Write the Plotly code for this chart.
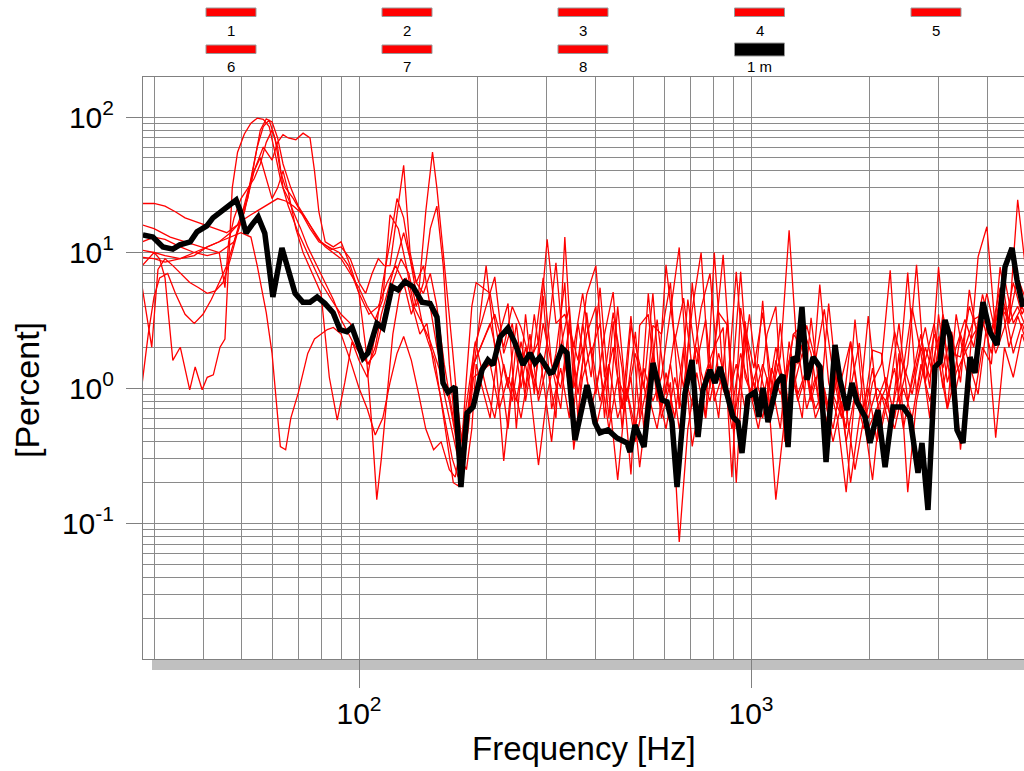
import plotly.graph_objects as go

# ---------------- data ----------------
BLACK_F = [28.1, 29.8, 31.6, 33.5, 34.9, 37.1, 38.6, 40.9, 42.4, 44.2,
           46.3, 48.6, 49.7, 51.5, 53.3, 55.3, 57.5, 60.3, 63.6, 65.9,
           68.7, 71.9, 75.0, 78.2, 81.9, 85.9, 89.4, 93.1, 96.0, 102.4,
           105.4, 111.1, 115.1, 121.4, 125.8, 131.0, 137.3, 144.8, 151.8, 158.1,
           163.8, 168.7, 175.8, 182.0, 188.6, 195.4, 206.0, 213.3, 219.8, 229.0,
           239.9, 250.0, 262.0, 273.0, 281.2, 289.5, 307.0, 312.5, 329.6, 339.4,
           355.6, 366.3, 381.6, 393.0, 400.0, 411.9, 431.6, 455.0, 482.8, 491.4,
           506.0, 533.5, 562.3, 593.0, 610.5, 628.7, 647.6, 678.6, 707.3, 732.6,
           754.3, 786.0, 809.5, 833.7, 868.6, 899.5, 926.4, 948.4, 982.4, 1024,
           1048, 1073, 1105, 1165, 1207, 1243, 1280, 1310, 1349, 1390,
           1440, 1500, 1554, 1609, 1638, 1687, 1758, 1810, 1864, 1954,
           2012, 2109, 2198, 2302, 2442, 2544, 2667, 2730, 2828, 2947,
           3035, 3126, 3219, 3354, 3474, 3621, 3728, 3907, 4072, 4243,
           4446, 4633, 4771, 4941]
BLACK_V = [13.5, 13.0, 11.0, 10.6, 11.4, 12.0, 14.2, 15.7, 18.0, 19.9,
           21.7, 24.4, 20.6, 13.9, 16.0, 18.3, 13.9, 4.7, 10.8, 7.4,
           5.0, 4.3, 4.3, 4.7, 4.2, 3.6, 2.7, 2.6, 2.8, 1.66,
           1.81, 3.0, 2.77, 5.6, 5.3, 6.1, 5.6, 4.3, 4.2, 3.34,
           1.09, 0.93, 1.02, 0.186, 0.654, 0.724, 1.36, 1.61, 1.48, 2.38,
           2.77, 2.15, 1.48, 1.81, 1.53, 1.69, 1.29, 1.31, 1.97, 1.81,
           0.413, 0.611, 1.05, 0.724, 0.552, 0.466, 0.49, 0.428, 0.393, 0.337,
           0.533, 0.367, 1.53, 0.815, 0.79, 0.561, 0.186, 0.918, 1.61, 0.435,
           0.967, 1.36, 1.09, 1.43, 0.858, 0.611, 0.561, 0.331, 0.858, 0.934,
           0.611, 1.0, 0.561, 1.09, 1.25, 0.367, 1.69, 1.56, 3.96, 1.15,
           1.69, 1.43, 0.284, 1.09, 2.08, 1.15, 0.688, 1.09, 0.788, 0.611,
           0.393, 0.688, 0.261, 0.724, 0.724, 0.611, 0.236, 0.393, 0.126, 1.43,
           1.56, 3.18, 2.38, 0.49, 0.393, 1.69, 1.29, 4.3, 2.59, 2.08,
           7.82, 10.8, 6.27, 3.96]

# high-frequency sampling grids for the red runs
GRID_A = [211, 222, 234, 246, 259, 273, 287, 302, 318,
          335, 353, 372, 391, 412, 434, 457, 481, 507,
          533, 562, 591, 623, 656, 690, 727, 766, 806,
          849, 894, 941, 991, 1044, 1099, 1157, 1219, 1283,
          1351, 1423, 1498, 1578, 1661, 1749, 1842, 1940, 2042,
          2151, 2265, 2385, 2511, 2644, 2784, 2932, 3087, 3251,
          3423, 3605, 3796, 3997, 4209, 4432, 4667, 4914, 5100]
GRID_B = [216, 228, 240, 252, 266, 280, 295, 310, 327,
          344, 362, 381, 402, 423, 445, 469, 494, 520,
          547, 576, 607, 639, 673, 708, 746, 786, 827,
          871, 917, 966, 1017, 1071, 1128, 1188, 1251, 1317,
          1387, 1460, 1538, 1619, 1705, 1795, 1890, 1991, 2096,
          2207, 2324, 2448, 2577, 2714, 2858, 3009, 3169, 3337,
          3514, 3700, 3896, 4103, 4320, 4549, 4790, 5100]

R1_F = [28, 30, 32, 34, 36, 38, 40, 43, 46, 49, 52, 54, 56, 58, 60, 62, 64, 67, 70, 74,
        78, 82, 86, 90, 95, 100, 105, 110, 115, 120, 126, 132, 138, 145, 152, 160, 168, 174, 179, 184, 190, 196]
R1_V = [23, 23, 22, 20, 18, 17, 16, 15, 14, 16, 25, 45, 80, 97, 92, 70, 45, 30, 22, 17,
        13, 11, 10, 9, 7, 5.5, 4, 3.2, 4.5, 19, 15, 8, 4, 3, 2.2, 1.4, 0.7, 0.45, 0.3, 0.35, 0.7, 1.5]
R1_HI = [2.5, 3.5, 2.0, 4.0, 2.8, 1.6, 2.2, 12.5, 3.0,
         3.5, 2.0, 5.0, 1.8, 3.0, 0.6, 4.0, 0.8, 2.6,
         0.5, 2.9, 2.5, 6.0, 0.7, 4.5, 1.5, 3.2, 0.8,
         1.3, 0.5, 1.1, 3.5, 1.0, 0.6, 1.6, 0.9, 2.5,
         2.0, 0.8, 1.5, 0.6, 1.2, 0.4, 0.9, 0.6, 1.4,
         0.5, 1.0, 3.0, 0.8, 1.5, 2.8, 1.2, 3.5, 1.8,
         1.7, 4.0, 2.5, 5.0, 2.5, 6.5, 3.0, 4.0, 3.0]

R2_F = [28, 30, 33, 36, 40, 44, 48, 51, 54, 57, 60, 62, 64, 66, 69, 72, 75, 77, 79, 82,
        86, 90, 95, 100, 106, 112, 118, 124, 130, 136, 142, 148, 154, 158, 163, 168, 173, 178, 183, 188, 194, 199]
R2_V = [16, 15, 13, 12, 11, 10, 12, 20, 40, 60, 48, 65, 74, 70, 68, 76, 70, 40, 20, 12,
        11, 12, 8, 5, 3.5, 4, 6, 8, 6, 3.5, 5, 20, 55, 30, 12, 5, 2, 0.8, 0.4, 1.2, 4, 6]
R2_HI = [5.0, 2.0, 1.0, 3.0, 0.8, 2.0, 6.5, 1.5, 1.0,
         2.8, 1.6, 4.9, 8.0, 1.2, 3.6, 1.4, 0.23, 2.9,
         3.5, 0.8, 8.1, 2.2, 4.6, 1.4, 3.9, 7.0, 1.2,
         0.8, 1.5, 0.7, 1.1, 0.6, 1.4, 0.9, 1.6, 0.8,
         1.3, 0.7, 1.0, 0.5, 1.2, 2.2, 0.8, 0.6, 1.0,
         0.8, 1.4, 0.5, 1.2, 2.5, 1.0, 7.8, 1.5, 1.0,
         2.0, 3.2, 3.5, 2.5, 4.0, 3.2, 6.5, 4.0]

R3_F = [28, 30, 32, 35, 38, 41, 44, 47, 50, 53, 55, 58, 60, 63, 65, 67, 70, 74, 77, 83,
        86, 90, 95, 100, 105, 110, 115, 120, 125, 130, 136, 142, 148, 155, 162, 170, 176, 181, 186, 192, 198]
R3_V = [10.4, 10, 9.5, 9, 9.5, 11, 12, 13, 14, 13, 8, 3.6, 1.8, 0.37, 0.35, 0.6, 0.92, 1.8, 2.3, 2.7,
        2.8, 2.5, 1.6, 1.0, 0.7, 0.45, 0.6, 1.1, 1.8, 2.4, 1.6, 0.9, 0.5, 0.35, 0.4, 0.25, 0.22, 0.35, 0.6, 1.2, 2.2]
R3_HI = [1.0, 0.6, 1.5, 0.8, 2.2, 1.0, 0.27, 0.9, 1.8,
         6.0, 0.35, 1.2, 2.0, 0.8, 1.5, 0.6, 1.0, 0.4,
         0.8, 1.8, 0.6, 1.1, 0.073, 0.5, 1.3, 0.6, 2.0,
         2.8, 0.22, 3.9, 1.6, 0.7, 2.5, 4.0, 0.4, 1.2,
         0.6, 3.3, 0.9, 0.5, 1.5, 0.7, 0.25, 0.6, 0.21,
         0.9, 0.5, 1.8, 0.17, 0.8, 1.6, 3.0, 1.0, 2.2,
         0.35, 1.5, 0.9, 3.0, 0.43, 2.0, 1.2, 2.5, 1.8]

R4_F = [28, 29, 30, 31, 32, 33.5, 35, 37, 38.2, 39.8, 41, 42.5, 44.2, 45.5, 46.5, 47.5, 49, 51, 53, 55,
        57, 59, 61, 63, 66, 70, 75, 80, 85, 90, 95, 100, 105, 110, 116, 122, 128, 134, 140, 146,
        152, 158, 164, 170, 176, 182, 188, 194, 199]
R4_V = [8, 9, 10, 9, 6.5, 1.6, 2.0, 0.97, 1.43, 0.97, 1.2, 1.25, 2.0, 2.3, 8, 30, 55, 75, 90, 98,
        96, 85, 55, 35, 22, 14, 9, 6, 4.5, 3.5, 3, 2.2, 1.5, 1.8, 3.5, 6, 9, 7, 4, 6,
        15, 22, 8, 1.5, 0.5, 0.3, 0.25, 0.5, 1.5]
R4_HI = [0.6, 2.5, 4.2, 0.5, 3.5, 0.9, 4.8, 0.7, 1.4,
         0.6, 3.0, 1.2, 0.5, 1.0, 2.0, 0.7, 1.2, 0.26,
         0.9, 0.5, 1.3, 0.6, 2.0, 0.37, 0.9, 1.5, 0.6,
         3.2, 0.2, 2.8, 1.4, 3.6, 1.1, 0.5, 2.2, 0.9,
         1.4, 0.6, 0.9, 0.4, 0.8, 0.2, 0.6, 1.0, 0.4,
         0.8, 0.5, 1.0, 0.6, 1.5, 0.8, 1.6, 0.7, 1.3,
         1.8, 2.5, 3.2, 1.8, 5.0, 2.0, 3.4, 2.0]

R5_F = [28, 29, 29.6, 30.7, 32, 33.5, 35, 37, 39, 41, 43, 45, 47, 49, 51, 53, 55, 57, 59, 61,
        63, 65, 68, 71, 75, 79, 84, 89, 94, 100, 104, 108, 111, 114, 118, 122, 127, 132, 137, 143,
        149, 155, 161, 167, 173, 179, 185, 191, 197]
R5_V = [5.5, 3, 2, 7.5, 9, 8, 7, 6, 5.5, 5, 5.2, 6, 9, 14, 20, 35, 60, 85, 95, 70,
        40, 30, 25, 20, 15, 12, 11, 10, 8, 5, 2, 0.5, 0.15, 0.3, 0.9, 2.5, 5, 6.5, 4, 2.5,
        3, 1.5, 0.9, 0.5, 0.3, 0.22, 0.3, 0.8, 2]
R5_HI = [4.0, 6.6, 1.8, 3.0, 1.0, 2.5, 0.8, 1.5, 0.6,
         13, 1.0, 2.0, 0.7, 1.4, 0.5, 1.2, 0.8, 1.8,
         1.0, 5.0, 0.7, 1.5, 0.5, 1.0, 2.0, 0.6, 10,
         1.2, 0.7, 1.8, 1.0, 0.5, 1.2, 0.15, 0.6, 1.0,
         1.8, 0.9, 5.8, 1.1, 0.6, 0.17, 0.9, 0.5, 1.1,
         1.5, 7.4, 0.8, 1.5, 8.1, 1.1, 2.5, 1.4, 2.6,
         1.1, 5.3, 2.2, 3.5, 1.8, 2.8, 6.0, 3.5, 4.5]

R6_F = [28, 29, 30, 31, 32.5, 34, 36, 38, 40, 42, 44, 46, 48, 50, 52, 54, 56, 58, 60, 62,
        64, 66, 69, 72, 76, 80, 84, 88, 92, 96, 100, 105, 110, 115, 120, 125, 130, 135, 140, 146,
        152, 158, 165, 172, 178, 184, 190, 196]
R6_V = [1.1, 2.5, 4.7, 6.5, 7, 5, 3.5, 3, 3.5, 4.5, 6, 8, 12, 18, 28, 40, 50, 35, 25, 30,
        40, 28, 15, 10, 7, 5, 1.2, 0.58, 1.1, 2.2, 1.6, 1.2, 2.5, 6, 12, 25, 18, 9, 6, 5,
        7, 4, 1.5, 0.7, 0.4, 0.3, 0.6, 1.5]
R6_HI = [3.0, 1.5, 0.5, 2.2, 1.0, 3.5, 1.2, 0.4, 2.0,
         4.0, 0.6, 3.6, 0.9, 2.5, 5.1, 0.7, 3.4, 0.6,
         5.0, 1.0, 0.5, 1.2, 0.6, 6.0, 1.3, 0.8, 1.8,
         1.0, 7.2, 1.2, 0.8, 1.5, 0.9, 1.7, 14.6, 1.5,
         2.9, 1.6, 3.8, 1.3, 0.6, 2.2, 0.7, 3.4, 0.8,
         1.2, 0.6, 1.5, 0.9, 2.0, 1.2, 2.4, 0.7, 3.5,
         1.5, 0.8, 2.0, 1.5, 7.8, 3.0, 24.5, 5.0]

R7_F = [28, 30, 32, 35, 38, 41, 44, 47, 50, 53, 56, 59, 62, 65, 68, 72, 76, 80, 85, 90,
        95, 100, 104, 108, 112, 116, 120, 125, 130, 135, 140, 146, 152, 158, 164, 170, 175, 180, 185, 190, 195]
R7_V = [9.2, 9, 8.5, 9, 10, 11, 12, 14, 17, 19, 21, 23, 25, 24, 22, 19, 15, 12, 10.5, 11,
        9, 6, 5, 7, 9, 8, 8, 20, 44, 10, 6, 8, 4, 2, 1.2, 0.8, 0.5, 0.3, 0.3, 0.6, 1.2]
R7_HI = [8, 2.0, 0.29, 1.2, 0.6, 1.5, 0.9, 2.2, 8.4,
         1.5, 0.7, 3.0, 1.2, 5.5, 0.9, 0.21, 1.0, 0.5,
         1.4, 0.8, 1.2, 3.5, 10.9, 1.0, 0.6, 1.3, 2.0,
         9.6, 1.1, 7.2, 0.9, 1.5, 0.8, 2.0, 1.0, 2.5,
         2.9, 1.8, 0.7, 4.2, 1.0, 0.5, 3.2, 0.7, 1.9,
         1.8, 0.6, 1.2, 7.1, 0.9, 2.0, 1.2, 3.0, 0.9,
         2.5, 1.5, 9.3, 15.5, 2.5, 4.0, 1.8, 3.0, 2.2]

R8_F = [28, 30, 32, 35, 38, 41, 44, 45.5, 46.5, 48, 50, 52, 54, 56, 58, 60, 62, 64, 66, 68,
        71, 74, 78, 82, 86, 90, 94, 98, 102, 106, 110, 114, 118, 122, 126, 130, 135, 140, 145, 150,
        156, 162, 168, 174, 179, 184, 190, 196]
R8_V = [12, 13, 12.5, 11, 10, 9.5, 10, 5.5, 12, 18, 25, 30, 35, 45, 65, 80, 60, 30, 25, 20,
        15, 11, 8, 6, 4.5, 3.2, 2.5, 2, 1.7, 1.5, 2, 3.5, 5, 7, 10, 14, 9, 5, 3, 2.2,
        1.6, 0.8, 0.4, 0.2, 0.19, 0.25, 0.5, 1.2]
R8_HI = [1.5, 0.7, 1.2, 0.8, 2.0, 1.0, 3.0, 1.5, 0.7,
         3.2, 0.9, 2.5, 4.0, 0.6, 3.1, 0.5, 2.9, 1.5,
         0.7, 3.2, 0.9, 2.5, 1.0, 3.8, 10, 1.0, 3.6,
         2.9, 0.5, 3.1, 0.8, 4.4, 0.7, 3.0, 0.6, 2.0,
         0.7, 1.2, 0.5, 0.9, 0.6, 1.0, 2.15, 0.5, 0.7,
         1.0, 2.6, 1.4, 3.9, 1.8, 0.6, 3.5, 1.1, 2.0,
         3.2, 2.0, 4.9, 2.6, 5.5, 3.0, 4.0, 2.5]

RED_RUNS = [
    (R1_F, R1_V, GRID_A, R1_HI), (R2_F, R2_V, GRID_B, R2_HI),
    (R3_F, R3_V, GRID_A, R3_HI), (R4_F, R4_V, GRID_B, R4_HI),
    (R5_F, R5_V, GRID_A, R5_HI), (R6_F, R6_V, GRID_B, R6_HI),
    (R7_F, R7_V, GRID_A, R7_HI), (R8_F, R8_V, GRID_B, R8_HI),
]

LEGEND_ROW1 = ["1", "2", "3", "4", "5"]
LEGEND_ROW2 = ["6", "7", "8", "1 m"]
X_MAJOR = [100, 1000]
X_MAJOR_TEXT = ["10<sup>2</sup>", "10<sup>3</sup>"]
Y_MAJOR = [0.1, 1, 10, 100]
Y_MAJOR_TEXT = ["10<sup>-1</sup>", "10<sup>0</sup>", "10<sup>1</sup>", "10<sup>2</sup>"]
X_MINOR = [30, 40, 50, 60, 70, 80, 90, 200, 300, 400, 500, 600, 700, 800, 900, 2000, 3000, 4000]
Y_MINOR = [0.02, 0.03, 0.04, 0.05, 0.06, 0.07, 0.08, 0.09,
           0.2, 0.3, 0.4, 0.5, 0.6, 0.7, 0.8, 0.9,
           2, 3, 4, 5, 6, 7, 8, 9,
           20, 30, 40, 50, 60, 70, 80, 90]

# ---------------- figure ----------------
W, H = 1024, 771
L, R, T, B = 143, 0, 77, 112
PW, PH = W - L - R, H - T - B
FONT = "Liberation Sans, Arial, sans-serif"
GRID = "#8a8a8a"

def px(xp):
    return (xp - L) / PW

def py(yp):
    return (H - B - yp) / PH

fig = go.Figure()
for f_lo, v_lo, f_hi, v_hi in RED_RUNS:
    fig.add_trace(go.Scatter(x=list(f_lo) + list(f_hi), y=list(v_lo) + list(v_hi),
                             mode="lines", line=dict(color="#ff0000", width=1.3),
                             hoverinfo="skip"))
fig.add_trace(go.Scatter(x=BLACK_F, y=BLACK_V, mode="lines",
                         line=dict(color="#000000", width=5.5), hoverinfo="skip"))

shapes = []
# shadow under the plot frame
shapes.append(dict(type="rect", xref="paper", yref="paper", x0=px(152), x1=1.0,
                   y0=py(670), y1=py(659), fillcolor="#c0c0c0", line=dict(width=0),
                   layer="below"))
annotations = []
col_x = [231, 407, 583, 759.5, 936]
for i, lab in enumerate(LEGEND_ROW1):
    cx = col_x[i]
    shapes.append(dict(type="rect", xref="paper", yref="paper",
                       x0=px(cx - 25), x1=px(cx + 25), y0=py(16.5), y1=py(8),
                       fillcolor="#ff0000", line=dict(color="#999999", width=1)))
    annotations.append(dict(x=px(cx), y=py(30), xref="paper", yref="paper", text=lab,
                            showarrow=False, xanchor="center", yanchor="middle",
                            font=dict(family=FONT, size=15, color="#000000")))
for i, lab in enumerate(LEGEND_ROW2):
    cx = col_x[i]
    black = (i == len(LEGEND_ROW2) - 1)
    y0, y1 = (56, 43) if black else (53.5, 45)
    shapes.append(dict(type="rect", xref="paper", yref="paper",
                       x0=px(cx - 25), x1=px(cx + 25), y0=py(y0), y1=py(y1),
                       fillcolor="#000000" if black else "#ff0000",
                       line=dict(color="#999999", width=1)))
    annotations.append(dict(x=px(cx), y=py(66), xref="paper", yref="paper", text=lab,
                            showarrow=False, xanchor="center", yanchor="middle",
                            font=dict(family=FONT, size=15, color="#000000")))

annotations.append(dict(x=px(584), y=py(749), xref="paper", yref="paper",
                        text="Frequency [Hz]", showarrow=False,
                        xanchor="center", yanchor="middle",
                        font=dict(family=FONT, size=33, color="#000000")))
annotations.append(dict(x=px(27), y=py(390), xref="paper", yref="paper",
                        text="[Percent]", showarrow=False, textangle=-90,
                        xanchor="center", yanchor="middle",
                        font=dict(family=FONT, size=34, color="#000000")))

fig.update_layout(
    width=W, height=H, margin=dict(l=L, r=R, t=T, b=B, pad=0),
    paper_bgcolor="white", plot_bgcolor="white", showlegend=False,
    font=dict(family=FONT, color="#000000"),
    shapes=shapes, annotations=annotations,
    xaxis=dict(type="log", range=[1.44898, 3.69643], tickmode="array",
               tickvals=X_MAJOR, ticktext=X_MAJOR_TEXT, ticks="outside", ticklen=28,
               tickcolor="#808080", tickwidth=1, showgrid=True, gridcolor=GRID, gridwidth=1,
               showline=True, linecolor="#808080", linewidth=1, mirror=True, zeroline=False,
               tickfont=dict(family=FONT, size=30, color="#000000"),
               minor=dict(tickmode="array", tickvals=X_MINOR, showgrid=True,
                          gridcolor=GRID, gridwidth=1, ticks="")),
    yaxis=dict(type="log", range=[-2.0, 2.2952], tickmode="array",
               tickvals=Y_MAJOR, ticktext=Y_MAJOR_TEXT, ticks="outside", ticklen=16,
               ticklabelstandoff=6,
               tickcolor="#808080", tickwidth=1, showgrid=True, gridcolor=GRID, gridwidth=1,
               showline=True, linecolor="#808080", linewidth=1, mirror=True, zeroline=False,
               tickfont=dict(family=FONT, size=30, color="#000000"),
               minor=dict(tickmode="array", tickvals=Y_MINOR, showgrid=True,
                          gridcolor=GRID, gridwidth=1, ticks="")),
)

fig.write_html("out.html")
